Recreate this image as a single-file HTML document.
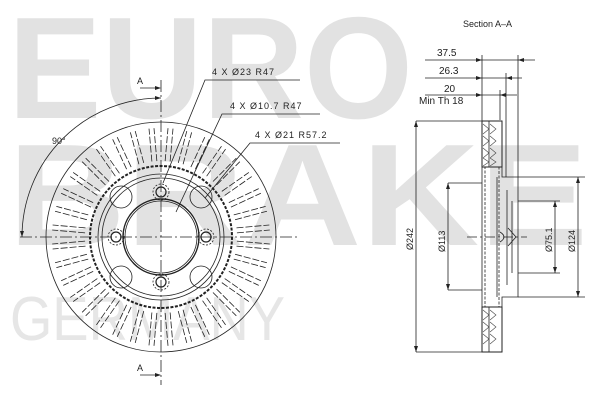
<!DOCTYPE html>
<html><head><meta charset="utf-8"><style>
body{margin:0;background:#fff}
svg{display:block}
text{font-family:"Liberation Sans",sans-serif}
</style></head><body>
<svg width="600" height="400" viewBox="0 0 600 400" xmlns="http://www.w3.org/2000/svg" xmlns:xlink="http://www.w3.org/1999/xlink">
<rect width="600" height="400" fill="#fff"/>
<g fill="#e2e2e2" font-weight="bold">
<text x="8" y="118" font-size="145" textLength="405" lengthAdjust="spacingAndGlyphs">EURO</text>
<text x="8" y="245" font-size="145" textLength="580" lengthAdjust="spacingAndGlyphs">BRAKE</text>
</g>
<text x="10" y="340" font-size="62" fill="#e6e6e6" textLength="275" lengthAdjust="spacingAndGlyphs">GERMANY</text>
<defs>
<g id="v" fill="none" stroke="#222" stroke-width="0.8" stroke-dasharray="7 2">
<line x1="237" y1="234.5" x2="270" y2="234.5"/><line x1="237" y1="239.5" x2="270" y2="239.5"/>
</g>
</defs>
<g transform="rotate(5 161 237)">
<use xlink:href="#v"/>
<use xlink:href="#v" transform="rotate(10 161 237)"/><use xlink:href="#v" transform="rotate(20 161 237)"/><use xlink:href="#v" transform="rotate(30 161 237)"/>
<use xlink:href="#v" transform="rotate(40 161 237)"/><use xlink:href="#v" transform="rotate(50 161 237)"/><use xlink:href="#v" transform="rotate(60 161 237)"/>
<use xlink:href="#v" transform="rotate(70 161 237)"/><use xlink:href="#v" transform="rotate(80 161 237)"/><use xlink:href="#v" transform="rotate(90 161 237)"/>
<use xlink:href="#v" transform="rotate(100 161 237)"/><use xlink:href="#v" transform="rotate(110 161 237)"/><use xlink:href="#v" transform="rotate(120 161 237)"/>
<use xlink:href="#v" transform="rotate(130 161 237)"/><use xlink:href="#v" transform="rotate(140 161 237)"/><use xlink:href="#v" transform="rotate(150 161 237)"/>
<use xlink:href="#v" transform="rotate(160 161 237)"/><use xlink:href="#v" transform="rotate(170 161 237)"/><use xlink:href="#v" transform="rotate(180 161 237)"/>
<use xlink:href="#v" transform="rotate(190 161 237)"/><use xlink:href="#v" transform="rotate(200 161 237)"/><use xlink:href="#v" transform="rotate(210 161 237)"/>
<use xlink:href="#v" transform="rotate(220 161 237)"/><use xlink:href="#v" transform="rotate(230 161 237)"/><use xlink:href="#v" transform="rotate(240 161 237)"/>
<use xlink:href="#v" transform="rotate(250 161 237)"/><use xlink:href="#v" transform="rotate(260 161 237)"/><use xlink:href="#v" transform="rotate(270 161 237)"/>
<use xlink:href="#v" transform="rotate(280 161 237)"/><use xlink:href="#v" transform="rotate(290 161 237)"/><use xlink:href="#v" transform="rotate(300 161 237)"/>
<use xlink:href="#v" transform="rotate(310 161 237)"/><use xlink:href="#v" transform="rotate(320 161 237)"/><use xlink:href="#v" transform="rotate(330 161 237)"/>
<use xlink:href="#v" transform="rotate(340 161 237)"/><use xlink:href="#v" transform="rotate(350 161 237)"/>
</g>
<g fill="none" stroke="#222" stroke-width="0.8">
<circle cx="161" cy="237" r="115"/>
<circle cx="161" cy="237" r="71" stroke-width="2" stroke-dasharray="3 1.5"/>
<circle cx="161" cy="237" r="63"/>
<circle cx="161" cy="237" r="59"/>
<circle cx="161" cy="237" r="38" stroke-width="1.4"/>
<circle cx="161" cy="237" r="36"/>
<circle cx="161" cy="192" r="5" stroke-width="1.2"/><circle cx="161" cy="192" r="8" stroke-dasharray="2 1.5"/>
<circle cx="161" cy="282" r="5" stroke-width="1.2"/><circle cx="161" cy="282" r="8" stroke-dasharray="2 1.5"/>
<circle cx="116" cy="237" r="5" stroke-width="1.2"/><circle cx="116" cy="237" r="8" stroke-dasharray="2 1.5"/>
<circle cx="206" cy="237" r="5" stroke-width="1.2"/><circle cx="206" cy="237" r="8" stroke-dasharray="2 1.5"/>
<circle cx="121" cy="197" r="11"/><circle cx="201" cy="197" r="11"/><circle cx="121" cy="277" r="11"/><circle cx="201" cy="277" r="11"/>
<line x1="161" y1="80" x2="161" y2="385" stroke-dasharray="12 3 2 3"/>
<line x1="20" y1="237" x2="300" y2="237" stroke-dasharray="12 3 2 3"/>
<path d="M161 98 A139 139 0 0 0 22 237"/>
<path d="M140 88 H160 M140 375 H160"/>
<path d="M300 80 H205 L163 183 M320 114 H222 L176 212 M340 143 H250 L205 198"/>
</g>
<g fill="#222">
<path d="M161 88 l-6 -2 v4z M161 375 l-6 -2 v4z M161 98 l-6 -2 v4z M22 237 l-2 -6 h4z"/>
</g>
<g font-size="9" fill="#222">
<text x="137" y="84">A</text><text x="137" y="371">A</text>
<text x="52" y="144">90°</text>
<text x="212" y="75" letter-spacing="1">4 X Ø23 R47</text>
<text x="230" y="109" letter-spacing="1">4 X Ø10.7 R47</text>
<text x="255" y="138" letter-spacing="1">4 X Ø21 R57.2</text>
<text x="463" y="27" font-size="9">Section A–A</text>
<text x="437" y="56" font-size="10">37.5</text>
<text x="439" y="74" font-size="10">26.3</text>
<text x="444" y="92" font-size="10">20</text>
<text x="419" y="104" font-size="10">Min Th 18</text>
</g>
<g fill="none" stroke="#222" stroke-width="0.8">
<path d="M425 60 H535 M425 78 H522 M425 95 H517"/>
<path d="M482 55 V352 M518 55 V177 M506 73 V177 M500 90 V120"/>
<path d="M416 121 H482 M416 352 H482 M416 121 V352"/>
<path d="M448 183 H482 M448 290 H482 M448 183 V290"/>
<path d="M518 201 H560 M518 273 H560 M555 201 V273"/>
<path d="M518 177 H585 M518 297 H585 M578 177 V297"/>
<path d="M467 237 H527" stroke-dasharray="10 3 2 3"/>
<rect x="482" y="121" width="20" height="46" stroke-width="1"/>
<rect x="482" y="307" width="20" height="45" stroke-width="1"/>
<path d="M489 121 V167 M489 307 V352"/>
<rect x="485" y="167" width="14" height="140" stroke-dasharray="3 1.5"/>
<path d="M502 167 V177 H518 V297 H502 V307 M497 177 V297 M507 190 V285 M512 201 V273"/>
<path d="M500 232 q8 5 0 10 M508 228 l8 9 l-8 9"/>
</g>
<g fill="#222"><path d="M482 60 l-6 -2 v4z M518 60 l6 -2 v4z M482 78 l-6 -2 v4z M506 78 l6 -2 v4z M482 95 l-6 -2 v4z M500 95 l6 -2 v4z M416 121 l-2 6 h4z M416 352 l-2 -6 h4z M448 183 l-2 6 h4z M448 290 l-2 -6 h4z M555 201 l-2 6 h4z M555 273 l-2 -6 h4z M578 177 l-2 6 h4z M578 297 l-2 -6 h4z"/></g>
<g font-size="9" fill="#222">
<text transform="translate(413 250) rotate(-90)">Ø242</text>
<text transform="translate(445 252) rotate(-90)">Ø113</text>
<text transform="translate(552 252) rotate(-90)">Ø75.1</text>
<text transform="translate(575 252) rotate(-90)">Ø124</text>
</g>
<g stroke="#444" stroke-width="0.6" fill="none">
<path d="M483 124 l6 5 l-6 5 M483 136 l6 5 l-6 5 M483 148 l6 5 l-6 5 M483 158 l6 4 l-6 4 M490 124 l6 5 l-6 5 M490 136 l6 5 l-6 5 M490 148 l6 5 l-6 5 M490 158 l6 4 l-6 4 M483 310 l6 5 l-6 5 M483 322 l6 5 l-6 5 M483 334 l6 5 l-6 5 M490 310 l6 5 l-6 5 M490 322 l6 5 l-6 5 M490 334 l6 5 l-6 5"/>
</g>
</svg>
</body></html>
